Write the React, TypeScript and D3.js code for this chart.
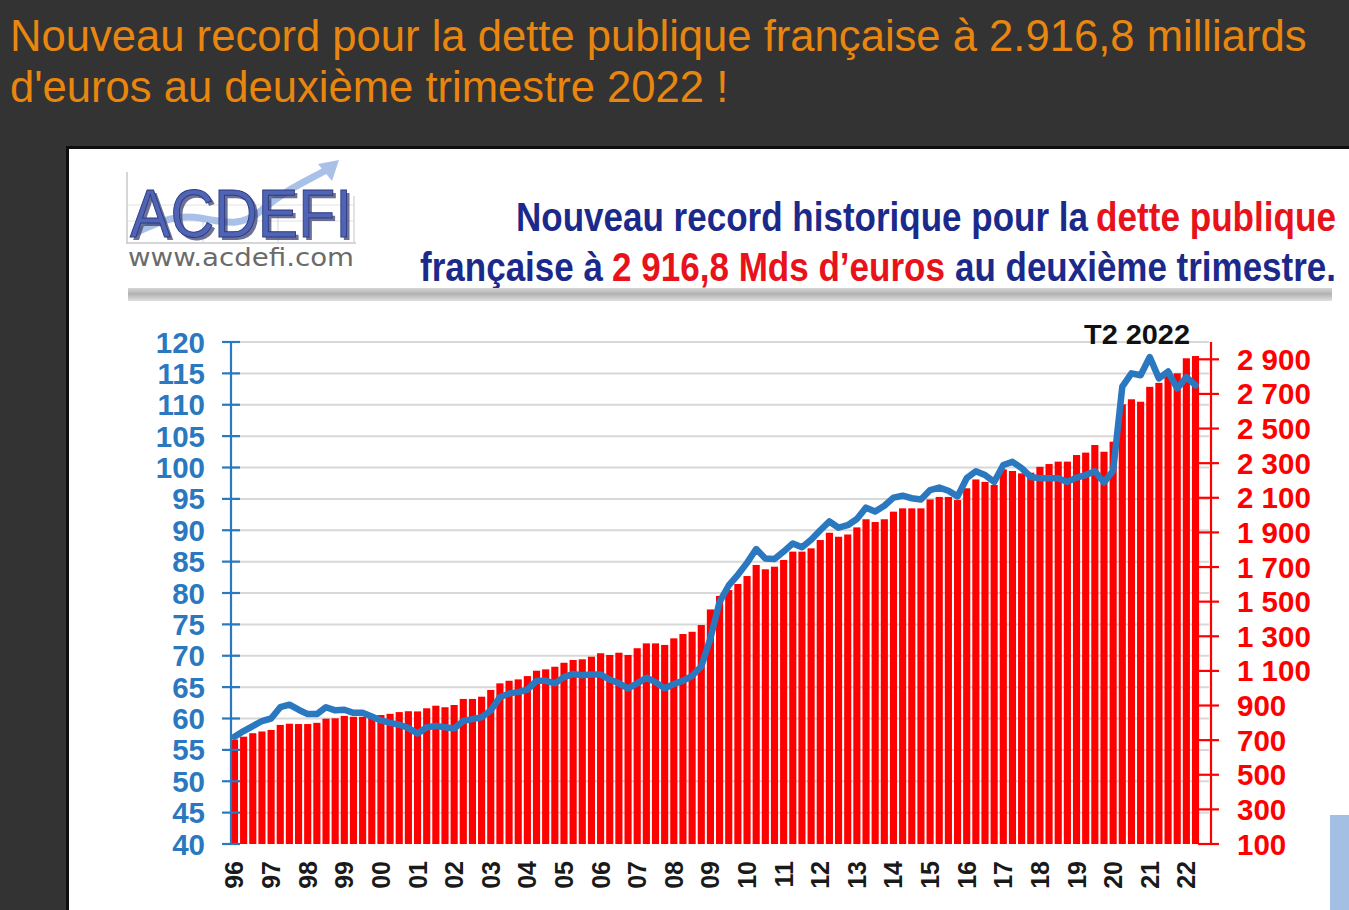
import React from 'react';
import * as d3 from 'd3';

// ---- data ----
const YEARS = ['96','97','98','99','00','01','02','03','04','05','06','07','08','09','10','11','12','13','14','15','16','17','18','19','20','21','22'];

// Public debt, Mds € (quarterly, 1996 T1 -> 2022 T2), right axis
const DEBT = [
  703, 720, 740, 750, 759, 788, 795, 793, 793, 800,
  824, 826, 840, 835, 835, 838, 845, 852, 862, 867,
  866, 884, 899, 890, 903, 938, 938, 951, 990, 1028,
  1043, 1051, 1070, 1101, 1109, 1124, 1147, 1163, 1167, 1182,
  1202, 1192, 1205, 1192, 1231, 1259, 1259, 1250, 1288, 1313,
  1326, 1365, 1455, 1533, 1567, 1602, 1648, 1712, 1687, 1702,
  1741, 1789, 1789, 1808, 1856, 1898, 1875, 1888, 1929, 1976,
  1960, 1976, 2020, 2039, 2039, 2039, 2090, 2105, 2105, 2087,
  2155, 2206, 2192, 2174, 2264, 2255, 2241, 2245, 2279, 2295,
  2309, 2309, 2347, 2361, 2405, 2366, 2424, 2640, 2669, 2655,
  2741, 2764, 2834, 2819, 2906, 2919,
];

// Debt as % of GDP, left axis
const RATIO = [
  57.1, 58.0, 58.8, 59.6, 60.0, 61.8, 62.2, 61.4, 60.7, 60.7,
  61.8, 61.3, 61.4, 60.9, 60.9, 60.3, 59.7, 59.3, 59.0, 58.5,
  57.6, 58.6, 58.8, 58.6, 58.4, 59.6, 59.9, 60.2, 61.3, 63.4,
  64.0, 64.2, 64.6, 66.0, 66.0, 65.6, 66.6, 67.1, 66.9, 67.0,
  67.0, 66.2, 65.6, 64.8, 65.6, 66.5, 65.8, 64.8, 65.5, 66.0,
  66.8, 68.3, 72.8, 78.6, 81.2, 82.9, 84.8, 87.0, 85.5, 85.4,
  86.6, 87.9, 87.3, 88.5, 90.0, 91.4, 90.4, 90.8, 91.8, 93.6,
  93.0, 93.9, 95.2, 95.5, 95.1, 94.9, 96.4, 96.8, 96.3, 95.4,
  98.3, 99.4, 98.8, 97.7, 100.4, 100.9, 99.9, 98.5, 98.3, 98.3,
  98.3, 97.7, 98.4, 98.8, 99.4, 97.6, 99.5, 112.9, 115.0, 114.7,
  117.6, 114.2, 115.3, 112.6, 114.4, 113.1,
];

const LEFT_TICKS = [40, 45, 50, 55, 60, 65, 70, 75, 80, 85, 90, 95, 100, 105, 110, 115, 120];
const RIGHT_TICKS = [100, 300, 500, 700, 900, 1100, 1300, 1500, 1700, 1900, 2100, 2300, 2500, 2700, 2900];

const PAGE_TITLE = ['Nouveau record pour la dette publique française à 2.916,8 milliards', "d'euros au deuxième trimestre 2022 !"];
const ANNOT = 'T2 2022';

const W = 1349;
const H = 910;

const frLocale = d3.formatLocale({ decimal: ',', thousands: '\u00a0', grouping: [3], currency: ['', ' €'] });
const fmtRight = frLocale.format(',');

export default function App() {
  const idx = DEBT.map((_, i) => i);
  const x = d3.scaleBand<number>().domain(idx).range([230, 1200]).paddingInner(0.22).paddingOuter(0.1);
  const yL = d3.scaleLinear().domain([40, 120]).range([844, 342]);
  const yR = d3.scaleLinear().domain([100, 3000]).range([844, 342]);
  const cx = (i: number) => (x(i) as number) + x.bandwidth() / 2;

  const line = d3.line<number>().x((_, i) => cx(i)).y((d) => yL(d)).curve(d3.curveLinear);

  const blue = '#2a78c0';
  const red = '#ff0000';
  const navy = '#1b2a8a';
  const tred = '#e8121b';

  const sans = '"Liberation Sans", Arial, sans-serif';
  const titleFont = '"Liberation Sans Narrow", "Liberation Sans", Arial, sans-serif';

  return (
    <svg width={W} height={H} style={{ position: 'fixed', left: 0, top: 0 }} xmlns="http://www.w3.org/2000/svg">
      <defs>
        <linearGradient id="sep" x1="0" y1="0" x2="0" y2="1">
          <stop offset="0" stopColor="#d6d6d6" />
          <stop offset="0.45" stopColor="#b2b2b2" />
          <stop offset="1" stopColor="#e0e0e0" />
        </linearGradient>
      </defs>
      <rect x={0} y={0} width={W} height={H} fill="#333333" />

      {/* page title */}
      {PAGE_TITLE.map((t, k) => (
        <text key={k} x={10} y={51 + k * 51} fill="#e9860f" fontFamily={sans} fontSize={43.6}>
          {t}
        </text>
      ))}

      {/* image panel */}
      <rect x={67.5} y={147.5} width={1300} height={800} fill="#ffffff" stroke="#0e0e0e" strokeWidth={3} />
      <rect x={1330} y={815} width={19} height={95} fill="#a3bfe4" />

      {/* logo */}
      <g>
        <line x1={127} y1={172} x2={127} y2={244} stroke="#c9c9c9" strokeWidth={1.5} />
        <line x1={127} y1={243} x2={356} y2={243} stroke="#c9c9c9" strokeWidth={1.5} />
        <line x1={354} y1={196} x2={354} y2={243} stroke="#d9d9d9" strokeWidth={1.5} />
        <line x1={127} y1={205} x2={354} y2={205} stroke="#e2e2e2" strokeWidth={1} />
        <line x1={127} y1={221} x2={354} y2={221} stroke="#e2e2e2" strokeWidth={1} />
        <line x1={203} y1={215} x2={203} y2={243} stroke="#d5d5d5" strokeWidth={1} />
        <line x1={278} y1={215} x2={278} y2={243} stroke="#d5d5d5" strokeWidth={1} />
        <path d="M135,233 C160,222 175,214 200,218 C225,222 240,228 262,210 C285,190 305,182 330,168" fill="none" stroke="#a9c0e8" strokeWidth={7} strokeLinecap="round" />
        <path d="M318,164 L339,160 L332,181 Z" fill="#a9c0e8" />
        <text x={133} y={240} fill="#3b4272" opacity={0.75} fontFamily={sans} fontSize={68} textLength={222} lengthAdjust="spacingAndGlyphs">ACDEFI</text>
        <text x={130} y={237} fill="#5064b6" stroke="#2d3a80" strokeWidth={1} fontFamily={sans} fontSize={68} textLength={222} lengthAdjust="spacingAndGlyphs">ACDEFI</text>
        <text x={128} y={266} fill="#6b6b6b" fontFamily='"DejaVu Sans", Verdana, sans-serif' fontSize={25} textLength={226} lengthAdjust="spacingAndGlyphs">www.acdefi.com</text>
      </g>

      {/* chart title */}
      <g fontFamily={titleFont} fontWeight="bold" fontSize={40}>
        <text x={516} y={231} fill={navy} textLength={572} lengthAdjust="spacingAndGlyphs">Nouveau record historique pour la</text>
        <text x={1096} y={231} fill={tred} textLength={240} lengthAdjust="spacingAndGlyphs">dette publique</text>
        <text x={420} y={281} fill={navy} textLength={183} lengthAdjust="spacingAndGlyphs">française à</text>
        <text x={612} y={281} fill={tred} textLength={333} lengthAdjust="spacingAndGlyphs">2 916,8 Mds d’euros</text>
        <text x={955} y={281} fill={navy} textLength={381} lengthAdjust="spacingAndGlyphs">au deuxième trimestre.</text>
      </g>
      <rect x={128} y={288} width={1204} height={13} fill="url(#sep)" />

      {/* gridlines */}
      {LEFT_TICKS.filter((t) => t > 40).map((t) => (
        <line key={t} x1={231} x2={1209} y1={yL(t)} y2={yL(t)} stroke="#d8d8d8" strokeWidth={2} />
      ))}

      {/* bars */}
      {DEBT.map((d, i) => (
        <rect key={i} x={x(i)} y={yR(d)} width={x.bandwidth()} height={yR(100) - yR(d)} fill={red} />
      ))}

      {/* ratio line */}
      <path d={line(RATIO) || ''} fill="none" stroke={blue} strokeWidth={6.5} strokeLinejoin="round" strokeLinecap="round" />

      {/* left axis */}
      <line x1={231} x2={231} y1={yL(120)} y2={yL(40)} stroke={blue} strokeWidth={2.2} />
      {LEFT_TICKS.map((t) => (
        <g key={t}>
          <line x1={222} x2={240} y1={yL(t)} y2={yL(t)} stroke={blue} strokeWidth={2.2} />
          <text x={205} y={yL(t)} textAnchor="end" dominantBaseline="central" fill={blue} fontFamily={sans} fontWeight="bold" fontSize={29.5}>
            {t}
          </text>
        </g>
      ))}

      {/* right axis */}
      <line x1={1211} x2={1211} y1={342} y2={yR(100)} stroke={red} strokeWidth={2.2} />
      {RIGHT_TICKS.map((t) => (
        <g key={t}>
          <line x1={1198} x2={1219} y1={yR(t)} y2={yR(t)} stroke={red} strokeWidth={2.2} />
          <text x={1237} y={yR(t)} dominantBaseline="central" fill={red} fontFamily={sans} fontWeight="bold" fontSize={29.5}>
            {fmtRight(t)}
          </text>
        </g>
      ))}

      {/* x labels */}
      {YEARS.map((yr, k) => (
        <text key={yr} transform={`translate(${cx(k * 4)},861) rotate(-90)`} textAnchor="end" dominantBaseline="central" fill="#1a1a1a" fontFamily={sans} fontWeight="bold" fontSize={25}>
          {yr}
        </text>
      ))}

      {/* annotation */}
      <text x={1137} y={344} textAnchor="middle" fill="#111" fontFamily={sans} fontWeight="bold" fontSize={28} textLength={106} lengthAdjust="spacingAndGlyphs">
        {ANNOT}
      </text>
    </svg>
  );
}
